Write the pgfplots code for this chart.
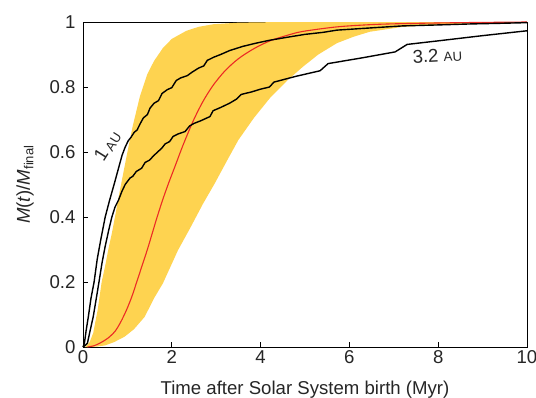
\documentclass[border=0pt]{standalone}
\usepackage{fontspec}
\setmainfont{Liberation Sans}
\usepackage{pgfplots}
\pgfplotsset{compat=1.18}
\definecolor{bandyellow}{RGB}{254,211,80}
\definecolor{curvered}{RGB}{236,42,36}
\begin{document}
\begin{tikzpicture}
\begin{axis}[
  name=ax,
  scale only axis,
  width=444pt, height=325pt,
  xmin=0, xmax=10, ymin=0, ymax=1,
  xtick={0,2,4,6,8,10},
  ytick={0,0.2,0.4,0.6,0.8,1},
  yticklabels={0,0.2,0.4,0.6,0.8,1},
  xticklabels={0,2,4,6,8,10},
  tick align=inside,
  tick pos=left,
  major tick length=5.5pt,
  tick style={black, line width=0.8pt},
  axis line style={black, line width=0.8pt},
  ticklabel style={font=\fontsize{18.6}{22}\selectfont, text=black!85},
  yticklabel style={xshift=-4pt},
  /pgf/number format/assume math mode=true,
  xlabel={Time after Solar System birth (Myr)},
  ylabel={\textit{M}(\textit{t})/\textit{M}\textsubscript{final}},
  label style={font=\fontsize{18.6}{22}\selectfont, text=black!85},
  xlabel style={yshift=-10.5pt},
  ylabel style={yshift=9pt},
  clip=false,
]
% yellow band
\addplot[fill=bandyellow, draw=none] coordinates {
(0.05,0) (0.15,0.015) (0.23,0.043) (0.33,0.114) (0.42,0.2) (0.5,0.25) (0.57,0.3) (0.65,0.35) (0.72,0.4) (0.8,0.46) (0.9,0.53) (1.0,0.6) (1.12,0.68) (1.28,0.77) (1.45,0.84) (1.6,0.88) (1.8,0.92) (2.0,0.948) (2.33,0.973) (2.6,0.985) (2.93,0.993) (3.5,0.998) (4.5,1) (10,1)
(8.33,0.994) (7.2,0.985) (6.46,0.97) (6.1,0.955) (5.72,0.935) (5.3,0.9) (4.95,0.862) (4.6,0.82) (4.21,0.766) (3.85,0.705) (3.5,0.637) (3.25,0.575) (2.97,0.504) (2.7,0.44) (2.41,0.365) (2.14,0.298) (1.8,0.196) (1.6,0.15) (1.39,0.093) (1.15,0.055) (0.94,0.032) (0.7,0.015) (0.5,0.005) (0.3,0.001) (0.1,0)
} -- cycle;
% red curve
\addplot[curvered, line width=1.1pt, smooth] coordinates {
(0.1,0) (0.25,0.004) (0.38,0.012) (0.55,0.026) (0.72,0.048) (0.85,0.077) (0.98,0.114) (1.1,0.155) (1.21,0.2) (1.33,0.25) (1.45,0.3) (1.56,0.35) (1.67,0.4) (1.8,0.455) (1.93,0.505) (2.07,0.555) (2.25,0.62) (2.48,0.695) (2.7,0.755) (2.93,0.805) (3.2,0.85) (3.5,0.887) (3.85,0.918) (4.21,0.942) (4.6,0.959) (4.95,0.971) (5.72,0.985) (6.5,0.992) (7.2,0.995) (8.5,0.998) (10,1)
};
% 1 AU
\addplot[black, line width=1.4pt, line join=round] coordinates {
(0,0) (0.03,0.01) (0.07,0.05) (0.12,0.093) (0.18,0.15) (0.25,0.2) (0.32,0.27) (0.4,0.33) (0.5,0.4) (0.6,0.452) (0.7,0.5) (0.8,0.55) (0.88,0.59) (0.95,0.615) (1.02,0.635) (1.08,0.645) (1.15,0.66) (1.22,0.668) (1.28,0.685) (1.36,0.705) (1.45,0.715) (1.51,0.735) (1.6,0.75) (1.7,0.758) (1.78,0.78) (1.9,0.792) (2.0,0.798) (2.1,0.82) (2.2,0.828) (2.35,0.835) (2.45,0.845) (2.6,0.858) (2.72,0.865) (2.8,0.882) (2.95,0.892) (3.1,0.9) (3.3,0.912) (3.6,0.925) (3.9,0.935) (4.21,0.944) (4.6,0.953) (5.0,0.962) (5.4,0.968) (5.72,0.975) (6.5,0.982) (7.2,0.988) (8.0,0.991) (8.72,0.994) (9.4,0.996) (10,0.998)
};
% 3.2 AU
\addplot[black, line width=1.4pt, line join=round] coordinates {
(0,0) (0.05,0.005) (0.1,0.012) (0.16,0.05) (0.23,0.093) (0.3,0.15) (0.36,0.2) (0.43,0.26) (0.5,0.31) (0.58,0.36) (0.65,0.4) (0.72,0.43) (0.8,0.452) (0.88,0.48) (0.95,0.5) (1.06,0.52) (1.12,0.525) (1.2,0.54) (1.32,0.55) (1.4,0.568) (1.5,0.575) (1.58,0.587) (1.68,0.6) (1.77,0.611) (1.85,0.625) (1.95,0.632) (2.03,0.648) (2.15,0.656) (2.3,0.663) (2.4,0.68) (2.5,0.688) (2.65,0.696) (2.86,0.709) (2.93,0.727) (3.1,0.737) (3.3,0.75) (3.46,0.763) (3.56,0.777) (3.8,0.785) (3.99,0.793) (4.2,0.8) (4.3,0.815) (4.8,0.833) (5.34,0.85) (5.52,0.872) (6.3,0.89) (7.03,0.908) (7.3,0.931) (8.0,0.942) (9.0,0.958) (10,0.973)
};
\node[rotate=58, text=black!85, font=\fontsize{18.6}{22}\selectfont, inner sep=0pt] at (axis cs:0.55,0.618) {1\,\raisebox{-2pt}{\fontsize{13.2}{15}\selectfont AU}};
\node[rotate=3, text=black!85, font=\fontsize{18.6}{22}\selectfont, inner sep=0pt] at (axis cs:7.98,0.897) {3.2 {\fontsize{13.2}{15}\selectfont AU}};
\end{axis}
\pgfresetboundingbox
\path[use as bounding box] ([shift={(-83pt,-50pt)}]ax.south west) rectangle ([shift={(9pt,22pt)}]ax.north east);
\end{tikzpicture}
\end{document}
